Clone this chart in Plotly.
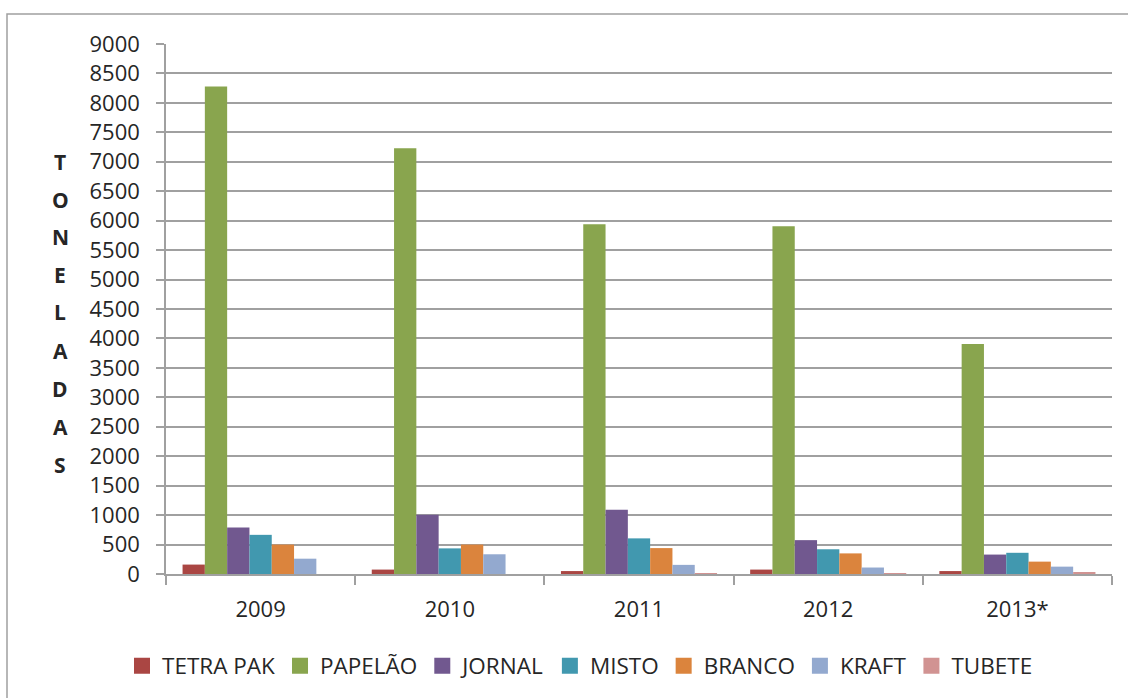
import plotly.graph_objects as go

# Tonnage of recycled paper types per year
years = ["2009", "2010", "2011", "2012", "2013*"]

tetra_pak = [160, 75, 50, 75, 50]
papelao = [8280, 7230, 5940, 5905, 3905]
jornal = [790, 1005, 1090, 575, 330]
misto = [665, 435, 605, 420, 360]
branco = [500, 500, 440, 350, 210]
kraft = [260, 335, 155, 110, 125]
tubete = [0, 0, 3, 5, 20]

series_names = ["TETRA PAK", "PAPELÃO", "JORNAL", "MISTO", "BRANCO", "KRAFT", "TUBETE"]
series_values = [tetra_pak, papelao, jornal, misto, branco, kraft, tubete]
series_colors = ["#AA4643", "#89A54E", "#71588F", "#4198AF", "#DB843D", "#93A9CF", "#D19392"]

y_ticks = list(range(0, 9001, 500))
axis_title_letters = list("TONELADAS")

W, H = 1128, 698
L, R, T, B = 166, 16, 44, 123
plot_w = W - L - R
plot_h = H - T - B

FONT = "Open Sans"
TEXT = "#262626"
GRID = "#A0A0A0"

fig = go.Figure()
for name, vals, col in zip(series_names, series_values, series_colors):
    fig.add_trace(go.Bar(
        x=years, y=vals, name=name, legendgroup=name, showlegend=False,
        marker=dict(color=col, line=dict(width=0)),
    ))

# Legend keys: larger square swatches for each series
for name, col in zip(series_names, series_colors):
    fig.add_trace(go.Scatter(
        x=[None], y=[None], mode="markers", name=name, legendgroup=name,
        marker=dict(symbol="square", size=16, color=col), showlegend=True,
    ))


def px_x(px):
    return (px - L) / plot_w


def px_y(py):
    return (H - B - py) / plot_h


# Vertical, stacked axis title
letter_y = [162, 200, 237, 275, 313, 352, 390, 428, 466]
annotations = []
for ch, py in zip(axis_title_letters, letter_y):
    annotations.append(dict(
        text=f"<b>{ch}</b>", x=px_x(60), y=px_y(py), xref="paper", yref="paper",
        showarrow=False, xanchor="center", yanchor="middle",
        font=dict(family=FONT, size=21, color=TEXT),
    ))

fig.update_layout(
    width=W, height=H,
    margin=dict(l=L, r=R, t=T, b=B),
    paper_bgcolor="white", plot_bgcolor="white",
    barmode="group", bargap=0.175, bargroupgap=0,
    font=dict(family=FONT, size=21, color=TEXT),
    showlegend=True,
    legend=dict(
        orientation="h", x=px_x(580), y=px_y(666), xanchor="center", yanchor="middle",
        font=dict(family=FONT, size=22.5, color=TEXT),
        traceorder="normal", itemsizing="trace", bgcolor="rgba(0,0,0,0)",
    ),
    annotations=annotations,
    shapes=[dict(
        type="rect", xref="paper", yref="paper",
        x0=px_x(7), x1=px_x(1140), y0=px_y(710), y1=px_y(14),
        line=dict(color=GRID, width=1.5), fillcolor="rgba(0,0,0,0)", layer="below",
    )],
    xaxis=dict(
        showline=True, linecolor=GRID, linewidth=1.5,
        ticks="outside", tickson="boundaries", ticklen=9, tickcolor=GRID, tickwidth=1.5,
        showgrid=False, tickfont=dict(family=FONT, size=22, color=TEXT),
        ticklabelstandoff=15,
    ),
    yaxis=dict(
        range=[0, 9000], tickvals=y_ticks,
        showline=True, linecolor=GRID, linewidth=1.5,
        showgrid=True, gridcolor=GRID, gridwidth=1.5,
        ticks="outside", ticklen=8, tickcolor=GRID, tickwidth=1.5,
        zeroline=False, tickfont=dict(family=FONT, size=22, color=TEXT),
        ticklabelstandoff=12,
    ),
)

fig.write_html("out.html")
